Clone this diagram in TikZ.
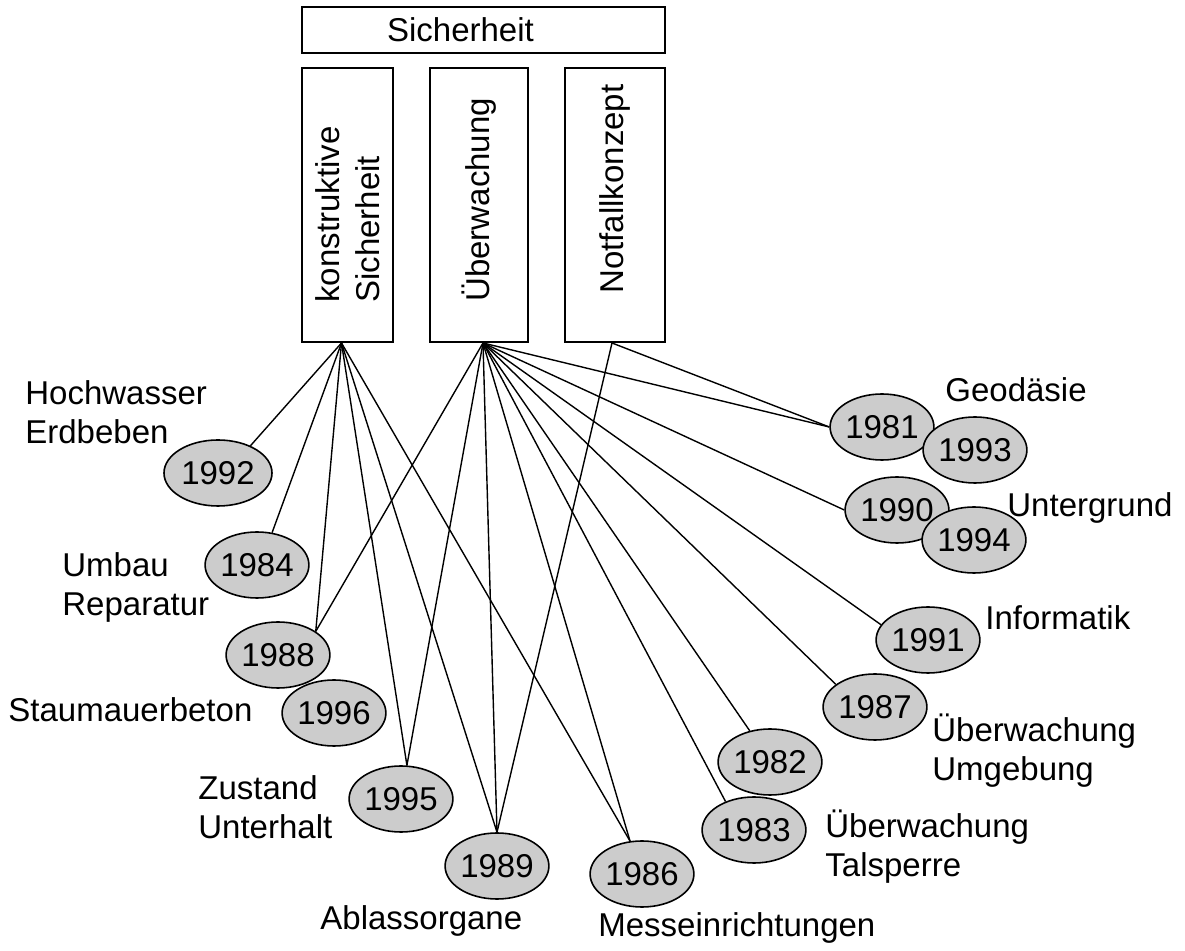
\documentclass[tikz,border=0pt]{standalone}
\usepackage{fontspec}
\setmainfont{Liberation Sans}
\usetikzlibrary{shapes.geometric}
\tikzset{
	box/.style={draw=black, line width=1pt, inner sep=0pt},
	yearnode/.style={ellipse, draw=black, line width=0.8pt, fill=black!20, minimum width=45pt, minimum height=33pt, inner sep=0pt},
	lbl/.style={inner sep=0pt, align=left},
	link/.style={line width=0.7pt}
}

\begin{document}
\begin{tikzpicture}[x=0.5pt, y=-0.5pt, every node/.style={font=\fontsize{16.5}{19.8}\selectfont}]

	\useasboundingbox (0,0) rectangle (1185,951);

	\node[box, minimum width=181.5pt, minimum height=23pt] (sicherheit) at (483.5,30) {Sicherheit\hspace*{23pt}};

	\node[box, minimum width=45.5pt, minimum height=137pt] (konstr) at (347.5,205) {};
	\node[box, minimum width=49pt, minimum height=137pt] (ueberw) at (479,205) {};
	\node[box, minimum width=50pt, minimum height=137pt] (notfall) at (615,205) {};

	\node[lbl, rotate=90, anchor=west] (konstrtxt) at (347.5,303) {konstruktive\\Sicherheit};
	\node[lbl, rotate=90, anchor=west] (ueberwtxt) at (479,302) {Überwachung};
	\node[lbl, rotate=90, anchor=west] (notfalltxt) at (615,294) {Notfallkonzept};

	% years
	\node[yearnode, minimum width=54pt] (e1992) at (218,473) {1992};
	\node[yearnode] (e1984) at (257,565) {1984};
	\node[yearnode] (e1988) at (278,655) {1988};
	\node[yearnode] (e1996) at (334,713) {1996};
	\node[yearnode] (e1995) at (401,799) {1995};
	\node[yearnode] (e1989) at (497,866) {1989};
	\node[yearnode] (e1986) at (642,874) {1986};
	\node[yearnode] (e1982) at (770,762) {1982};
	\node[yearnode] (e1983) at (754,830) {1983};
	\node[yearnode] (e1987) at (875,707) {1987};
	\node[yearnode] (e1991) at (928,640) {1991};
	\node[yearnode] (e1990) at (897,510) {1990};
	\node[yearnode] (e1994) at (974,540) {1994};
	\node[yearnode] (e1981) at (882,427) {1981};
	\node[yearnode] (e1993) at (975,450) {1993};

	% topics
	\node[lbl, anchor=north west] (hochwasser) at (25,380) {Hochwasser\\Erdbeben};
	\node[lbl, anchor=north west] (umbau) at (62,552) {Umbau\\Reparatur};
	\node[lbl, anchor=base west] (staumauer) at (8,722) {Staumauerbeton};
	\node[lbl, anchor=north west] (zustand) at (198,775) {Zustand\\Unterhalt};
	\node[lbl, anchor=base west] (ablass) at (320,930) {Ablassorgane};
	\node[lbl, anchor=base west] (messe) at (598,937) {Messeinrichtungen};
	\node[lbl, anchor=north west] (talsperre) at (825,809) {Überwachung\\Talsperre};
	\node[lbl, anchor=north west] (umgebung) at (932,713) {Überwachung\\Umgebung};
	\node[lbl, anchor=base west] (informatik) at (985,630) {Informatik};
	\node[lbl, anchor=base west] (untergrund) at (1007,517) {Untergrund};
	\node[lbl, anchor=base west] (geodaesie) at (945,402) {Geodäsie};

	% konstruktive Sicherheit
	\draw[link] ([xshift=-3pt]konstr.south) -- (e1992.40);
	\draw[link] ([xshift=-3pt]konstr.south) -- (e1984.65);
	\draw[link] ([xshift=-3pt]konstr.south) -- (e1988.32);
	\draw[link] ([xshift=-3pt]konstr.south) -- (e1995.80);
	\draw[link] ([xshift=-3pt]konstr.south) -- (e1989.north);
	\draw[link] ([xshift=-3pt]konstr.south) -- (e1986.110);

	% Ueberwachung
	\draw[link] ([xshift=2pt]ueberw.south) -- (e1988.32);
	\draw[link] ([xshift=2pt]ueberw.south) -- (e1995.80);
	\draw[link] ([xshift=2pt]ueberw.south) -- (e1989.north);
	\draw[link] ([xshift=2pt]ueberw.south) -- (e1986.110);
	\draw[link] ([xshift=2pt]ueberw.south) -- (e1983.135);
	\draw[link] ([xshift=2pt]ueberw.south) -- (e1982.123);
	\draw[link] ([xshift=2pt]ueberw.south) -- (e1987.150);
	\draw[link] ([xshift=2pt]ueberw.south) -- (e1991.162);
	\draw[link] ([xshift=2pt]ueberw.south) -- (e1990.west);
	\draw[link] ([xshift=2pt]ueberw.south) -- (e1981.west);

	% Notfallkonzept
	\draw[link] ([xshift=-1.5pt]notfall.south) -- (e1989.north);
	\draw[link] ([xshift=-1.5pt]notfall.south) -- (e1981.west);

\end{tikzpicture}
\end{document}
